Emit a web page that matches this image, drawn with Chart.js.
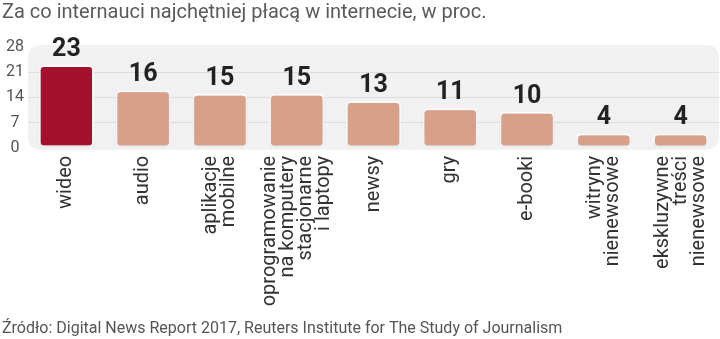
<!DOCTYPE html>
<html>
<head>
<meta charset="utf-8">
<script src="https://cdn.jsdelivr.net/npm/chart.js@4/dist/chart.umd.min.js"></script>
<style>
  html, body { margin: 0; padding: 0; background: #ffffff; }
  #wrap { width: 720px; height: 339px; position: relative; }
</style>
</head>
<body>
<div id="wrap"><canvas id="c" width="720" height="339"></canvas></div>
<script>
// Categories (multi-line labels) and values, in percent
const categories = [
  ['wideo'],
  ['audio'],
  ['aplikacje', 'mobilne'],
  ['oprogramowanie', 'na komputery', 'stacjonarne', 'i laptopy'],
  ['newsy'],
  ['gry'],
  ['e-booki'],
  ['witryny', 'nienewsowe'],
  ['ekskluzywne', 'treści', 'nienewsowe']
];
const values = [23, 16, 15, 15, 13, 11, 10, 4, 4];
const yTicks = [0, 7, 14, 21, 28];

const titleText = 'Za co internauci najchętniej płacą w internecie, w proc.';
const sourceText = 'Źródło: Digital News Report 2017, Reuters Institute for The Study of Journalism';

const RED = '#a5102d';
const SALMON = '#d9a089';
const FONT = "Roboto, 'Liberation Sans', sans-serif";
const LABEL_SIZE = 20;
const LABEL_LINE = 18;

// rounded light-grey panel behind the plot area
const panelPlugin = {
  id: 'panel',
  beforeDraw(chart) {
    const { ctx, chartArea: a } = chart;
    const x = a.left, y = a.top - 2, w = a.right - a.left, h = a.bottom - a.top + 4, r = 12;
    ctx.save();
    ctx.fillStyle = '#f1f1f1';
    ctx.beginPath();
    ctx.roundRect(x, y, w, h, r);
    ctx.fill();
    ctx.restore();
  }
};

// soft shadow under bars
const shadowPlugin = {
  id: 'barShadow',
  beforeDatasetsDraw(chart) {
    const ctx = chart.ctx;
    ctx.save();
    ctx.shadowColor = 'rgba(0,0,0,0.18)';
    ctx.shadowBlur = 3;
    ctx.shadowOffsetY = 1;
  },
  afterDatasetsDraw(chart) {
    chart.ctx.restore();
  }
};

// value labels above each bar
const valueLabelPlugin = {
  id: 'valueLabels',
  afterDatasetsDraw(chart) {
    const { ctx } = chart;
    const meta = chart.getDatasetMeta(0);
    ctx.save();
    ctx.fillStyle = '#222222';
    ctx.font = "bold 25px " + FONT;
    ctx.textAlign = 'center';
    ctx.textBaseline = 'alphabetic';
    meta.data.forEach((bar, i) => {
      ctx.fillText(String(values[i]), bar.x, bar.y - 9);
    });
    ctx.restore();
  }
};

// vertical category labels, each multi-line group centred on its tick
const categoryLabelPlugin = {
  id: 'categoryLabels',
  afterDraw(chart) {
    const { ctx } = chart;
    const xs = chart.scales.x;
    const top = chart.chartArea.bottom + 8;
    ctx.save();
    ctx.fillStyle = '#333333';
    ctx.font = LABEL_SIZE + 'px ' + FONT;
    ctx.textAlign = 'right';
    ctx.textBaseline = 'middle';
    categories.forEach((lines, i) => {
      const cx = xs.getPixelForTick(i);
      const first = cx - (lines.length - 1) * LABEL_LINE / 2;
      lines.forEach((line, j) => {
        ctx.save();
        ctx.translate(first + j * LABEL_LINE, top);
        ctx.rotate(-Math.PI / 2);
        ctx.fillText(line, 0, 0);
        ctx.restore();
      });
    });
    ctx.restore();
  }
};

new Chart(document.getElementById('c'), {
  type: 'bar',
  data: {
    labels: categories,
    datasets: [{
      data: values,
      backgroundColor: values.map((v, i) => i === 0 ? RED : SALMON),
      borderColor: '#ffffff',
      borderWidth: 2,
      borderRadius: 5,
      borderSkipped: false,
      barPercentage: 0.72,
      categoryPercentage: 1.0
    }]
  },
  options: {
    responsive: false,
    animation: false,
    devicePixelRatio: 1,
    layout: { padding: { left: 2, right: 1, top: 0, bottom: 0 } },
    plugins: {
      legend: { display: false },
      tooltip: { enabled: false },
      title: {
        display: true,
        text: titleText,
        align: 'start',
        color: '#5a5a5a',
        font: { family: FONT, size: 20, weight: 'normal', lineHeight: 1.2 },
        padding: { top: 1, bottom: 22 }
      },
      subtitle: {
        display: true,
        position: 'bottom',
        text: sourceText,
        align: 'start',
        color: '#555555',
        font: { family: FONT, size: 16, weight: 'normal', lineHeight: 1.2 },
        padding: { top: 0, bottom: 0 }
      }
    },
    scales: {
      x: {
        grid: { display: false },
        border: { display: false },
        ticks: { display: false },
        afterFit(scale) {
          scale.height = 172;
          scale.paddingLeft = 0;
          scale.paddingRight = 0;
        }
      },
      y: {
        min: 0,
        max: 28,
        afterBuildTicks(scale) { scale.ticks = yTicks.map(v => ({ value: v })); },
        border: { display: false },
        grid: {
          drawTicks: false,
          color: ctx => (ctx.tick && ctx.tick.value > 0 && ctx.tick.value < 28) ? '#dcdcdc' : 'rgba(0,0,0,0)',
          lineWidth: 1
        },
        ticks: {
          color: '#555555',
          padding: 4,
          crossAlign: 'center',
          font: { family: FONT, size: 16, weight: 'normal' }
        },
        afterFit(scale) { scale.width = 26; }
      }
    }
  },
  plugins: [panelPlugin, shadowPlugin, valueLabelPlugin, categoryLabelPlugin]
});
</script>
</body>
</html>
